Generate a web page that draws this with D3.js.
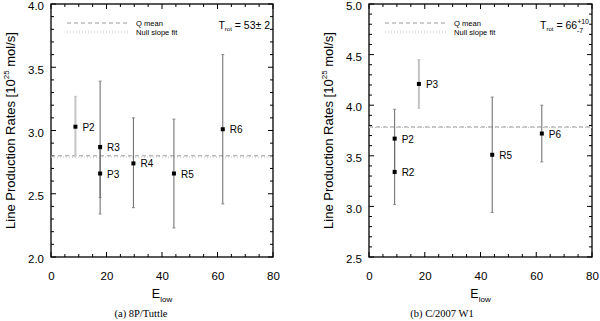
<!DOCTYPE html>
<html>
<head>
<meta charset="utf-8">
<script src="https://cdn.jsdelivr.net/npm/d3@7"></script>
<style>
  body { margin: 0; background: #fff; }
  svg text { font-family: "Liberation Sans", Arial, sans-serif; }
  svg text.caption { font-family: "Liberation Serif", "Times New Roman", serif; }
</style>
</head>
<body>
<div id="chart"></div>
<script>
// 8P/Tuttle values
const tuttleLabels = ["P2", "R3", "P3", "R4", "R5", "R6"]
const tuttleElow = [8.8, 17.7, 17.7, 29.7, 44.3, 61.9]
const tuttleQ = [3.03, 2.87, 2.66, 2.74, 2.66, 3.01]
const tuttleLow = [2.80, 2.34, 2.47, 2.39, 2.23, 2.42]
const tuttleHigh = [3.27, 3.39, 2.85, 3.10, 3.09, 3.60]
const tuttleMean = 2.80
const tuttleFit = 2.79

// C/2007 W1 values
const w1Labels = ["P2", "R2", "P3", "R5", "P6"]
const w1Elow = [9.2, 9.2, 17.9, 44.2, 62]
const w1Q = [3.67, 3.34, 4.21, 3.51, 3.72]
const w1Low = [3.36, 3.02, 3.97, 2.94, 3.44]
const w1High = [3.96, 3.66, 4.45, 4.08, 4.00]
const w1Mean = 3.785
const w1Fit = 3.78

const xDomain = [0, 80]
const xTicks = [0, 20, 40, 60, 80]

const W = 600, H = 321

const svg = d3.select("#chart").append("svg")
  .attr("width", W)
  .attr("height", H)
  .attr("viewBox", `0 0 ${W} ${H}`)

const drawPanel = (cfg) => {
  const g = svg.append("g")
  const x = d3.scaleLinear().domain(xDomain).range([cfg.left, cfg.right])
  const y = d3.scaleLinear().domain(cfg.yDomain).range([cfg.bottom, cfg.top])

  // minor + major ticks, inward on all four sides
  const xMinor = d3.range(xDomain[0], xDomain[1] + 0.01, 5)
  const yMinor = d3.range(0, Math.round((cfg.yDomain[1] - cfg.yDomain[0]) / 0.1) + 1)
    .map(i => cfg.yDomain[0] + i * 0.1)

  const tickLen = (isMajor) => isMajor ? 5 : 3
  const isMajorX = v => Math.abs(v % 20) < 0.01
  const isMajorY = v => Math.abs(v * 2 - Math.round(v * 2)) < 0.01

  g.selectAll(".xtick-b").data(xMinor).join("line")
    .attr("x1", d => x(d)).attr("x2", d => x(d))
    .attr("y1", cfg.bottom).attr("y2", d => cfg.bottom - tickLen(isMajorX(d)))
    .attr("stroke", "#000").attr("stroke-width", 1)
  g.selectAll(".xtick-t").data(xMinor).join("line")
    .attr("x1", d => x(d)).attr("x2", d => x(d))
    .attr("y1", cfg.top).attr("y2", d => cfg.top + tickLen(isMajorX(d)))
    .attr("stroke", "#000").attr("stroke-width", 1)
  g.selectAll(".ytick-l").data(yMinor).join("line")
    .attr("y1", d => y(d)).attr("y2", d => y(d))
    .attr("x1", cfg.left).attr("x2", d => cfg.left + tickLen(isMajorY(d)))
    .attr("stroke", "#000").attr("stroke-width", 1)
  g.selectAll(".ytick-r").data(yMinor).join("line")
    .attr("y1", d => y(d)).attr("y2", d => y(d))
    .attr("x1", cfg.right).attr("x2", d => cfg.right - tickLen(isMajorY(d)))
    .attr("stroke", "#000").attr("stroke-width", 1)

  // tick labels through d3 axes
  const xAxis = g.append("g")
    .attr("transform", `translate(0,${cfg.bottom})`)
    .call(d3.axisBottom(x).tickValues(xTicks).tickSize(0).tickPadding(15).tickFormat(d3.format("d")))
  xAxis.select(".domain").remove()
  xAxis.selectAll("text").attr("font-size", 11.5).attr("fill", "#000")
    .attr("font-family", null)

  const yAxis = g.append("g")
    .attr("transform", `translate(${cfg.left},0)`)
    .call(d3.axisLeft(y).tickValues(cfg.yTicks).tickSize(0).tickPadding(7).tickFormat(d3.format(".1f")))
  yAxis.select(".domain").remove()
  yAxis.selectAll("text").attr("font-size", 11.5).attr("fill", "#000").attr("dy", "0.5em")
    .attr("font-family", null)

  // frame
  g.append("rect")
    .attr("x", cfg.left).attr("y", cfg.top)
    .attr("width", cfg.right - cfg.left).attr("height", cfg.bottom - cfg.top)
    .attr("fill", "none").attr("stroke", "#000").attr("stroke-width", 1.3)

  // mean and null slope fit lines
  g.append("line")
    .attr("x1", cfg.left).attr("x2", cfg.right)
    .attr("y1", y(cfg.mean)).attr("y2", y(cfg.mean))
    .attr("stroke", "#999").attr("stroke-width", 1).attr("stroke-dasharray", "4,3")
  g.append("line")
    .attr("x1", cfg.left).attr("x2", cfg.right)
    .attr("y1", y(cfg.fit)).attr("y2", y(cfg.fit))
    .attr("stroke", "#bbb").attr("stroke-width", 1).attr("stroke-dasharray", "1,2")

  // legend
  const lx0 = cfg.left + 16, lx1 = cfg.left + 77
  g.append("line").attr("x1", lx0).attr("x2", lx1).attr("y1", cfg.top + 19).attr("y2", cfg.top + 19)
    .attr("stroke", "#999").attr("stroke-dasharray", "4,3")
  g.append("line").attr("x1", lx0).attr("x2", lx1).attr("y1", cfg.top + 28).attr("y2", cfg.top + 28)
    .attr("stroke", "#bbb").attr("stroke-dasharray", "1,2")
  g.append("text").attr("x", cfg.left + 85).attr("y", cfg.top + 21.5)
    .attr("font-size", 7.6).attr("fill", "#000").text("Q mean")
  g.append("text").attr("x", cfg.left + 85).attr("y", cfg.top + 31)
    .attr("font-size", 7.6).attr("fill", "#000").text("Null slope fit")

  // T_rot annotation
  const t = g.append("text").attr("x", cfg.right - cfg.tRight).attr("y", cfg.top + 25)
    .attr("text-anchor", "end").attr("font-size", 10.5)
  t.append("tspan").text("T")
  t.append("tspan").attr("font-size", 6).attr("dy", 2).text("rot")
  t.append("tspan").attr("dy", -2).text(" = " + cfg.tValue)
  if (cfg.tSup) {
    t.append("tspan").attr("font-size", 7).attr("dy", -5).text(cfg.tSup)
    t.append("tspan").attr("font-size", 7).attr("dx", -12).attr("dy", 9).text(cfg.tSub)
  }

  // data points
  const data = cfg.labels.map((lab, i) => ({
    label: lab, e: cfg.elow[i], q: cfg.q[i], lo: cfg.low[i], hi: cfg.high[i],
    light: cfg.lightBars.includes(lab)
  }))
  // draw light bars first so darker ones sit on top
  const ordered = data.slice().sort((a, b) => (b.light ? 1 : 0) - (a.light ? 1 : 0))

  g.selectAll(".errbar").data(ordered).join("line")
    .attr("x1", d => x(d.e)).attr("x2", d => x(d.e))
    .attr("y1", d => y(d.lo)).attr("y2", d => y(d.hi))
    .attr("stroke", d => d.light ? "#c4c4c4" : "#666")
    .attr("stroke-width", d => d.light ? 2 : 1)
  g.selectAll(".capLo").data(ordered).join("line")
    .attr("x1", d => x(d.e) - 1.5).attr("x2", d => x(d.e) + 1.5)
    .attr("y1", d => y(d.lo)).attr("y2", d => y(d.lo))
    .attr("stroke", d => d.light ? "#c4c4c4" : "#888").attr("stroke-width", 1)
  g.selectAll(".capHi").data(ordered).join("line")
    .attr("x1", d => x(d.e) - 1.5).attr("x2", d => x(d.e) + 1.5)
    .attr("y1", d => y(d.hi)).attr("y2", d => y(d.hi))
    .attr("stroke", d => d.light ? "#c4c4c4" : "#888").attr("stroke-width", 1)
  g.selectAll(".marker").data(data).join("rect")
    .attr("x", d => x(d.e) - 2).attr("y", d => y(d.q) - 2)
    .attr("width", 4).attr("height", 4).attr("fill", "#000")
  g.selectAll(".plabel").data(data).join("text")
    .attr("x", d => x(d.e) + 7).attr("y", d => y(d.q) + 4)
    .attr("font-size", 10).attr("fill", "#000")
    .text(d => d.label)

  // axis titles
  const cy = (cfg.top + cfg.bottom) / 2
  const yt = g.append("text")
    .attr("transform", `translate(${cfg.left - 36},${cy}) rotate(-90)`)
    .attr("text-anchor", "middle").attr("font-size", 13)
  yt.append("tspan").text("Line Production Rates [10")
  yt.append("tspan").attr("font-size", 8).attr("dy", -6).text("25")
  yt.append("tspan").attr("dy", 6).text(" mol/s]")

  const xt = g.append("text").attr("x", (cfg.left + cfg.right) / 2).attr("y", cfg.bottom + 41)
    .attr("text-anchor", "middle").attr("font-size", 12.5)
  xt.append("tspan").text("E")
  xt.append("tspan").attr("font-size", 8).attr("dy", 4).text("low")

  g.append("text").attr("class", "caption")
    .attr("x", cfg.captionX).attr("y", cfg.bottom + 60)
    .attr("text-anchor", "middle").attr("font-size", 10.5)
    .text(cfg.caption)
}

drawPanel({
  left: 51, right: 273, top: 4, bottom: 257,
  yDomain: [2.0, 4.0], yTicks: [2.0, 2.5, 3.0, 3.5, 4.0],
  labels: tuttleLabels, elow: tuttleElow, q: tuttleQ, low: tuttleLow, high: tuttleHigh,
  mean: tuttleMean, fit: tuttleFit, lightBars: ["P2"],
  tValue: "53\u00B1 2", tRight: 3,
  caption: "(a)  8P/Tuttle", captionX: 141
})

drawPanel({
  left: 369, right: 592, top: 4, bottom: 257,
  yDomain: [2.5, 5.0], yTicks: [2.5, 3.0, 3.5, 4.0, 4.5, 5.0],
  labels: w1Labels, elow: w1Elow, q: w1Q, low: w1Low, high: w1High,
  mean: w1Mean, fit: w1Fit, lightBars: ["P3"],
  tValue: "66", tSup: "+10", tSub: "-7", tRight: 3,
  caption: "(b)  C/2007 W1", captionX: 442
})
</script>
</body>
</html>
